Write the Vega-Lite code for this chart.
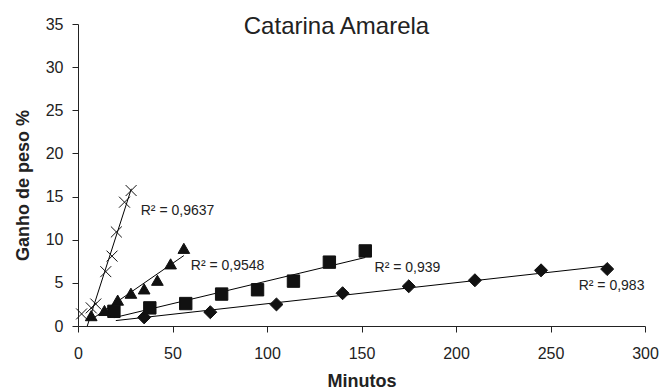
{
  "$schema": "https://vega.github.io/schema/vega-lite/v6.json",
  "width": 567,
  "height": 302,
  "autosize": {"type": "none"},
  "padding": {"left": 78, "top": 24, "right": 15, "bottom": 63},
  "background": "white",
  "config": {
    "view": {"stroke": null},
    "font": "Liberation Sans",
    "axis": {
      "grid": false,
      "domainColor": "#222",
      "tickColor": "#222",
      "labelColor": "#222",
      "titleColor": "#222",
      "labelFont": "Liberation Sans",
      "titleFont": "Liberation Sans",
      "labelFontSize": 16,
      "titleFontSize": 18,
      "titleFontWeight": "bold",
      "tickSize": 6
    }
  },
  "title": {
    "text": "Catarina Amarela",
    "fontSize": 24,
    "font": "Liberation Sans",
    "fontWeight": "normal",
    "color": "#222",
    "anchor": "middle",
    "frame": "group",
    "dx": -25,
    "dy": 33,
    "baseline": "alphabetic",
    "offset": -9
  },
  "datasets": {
    "points": [
      {"series": "d", "x": 35, "y": 1.0},
      {"series": "d", "x": 70, "y": 1.6},
      {"series": "d", "x": 105, "y": 2.5},
      {"series": "d", "x": 140, "y": 3.8},
      {"series": "d", "x": 175, "y": 4.6},
      {"series": "d", "x": 210, "y": 5.3},
      {"series": "d", "x": 245, "y": 6.45},
      {"series": "d", "x": 280, "y": 6.6},
      {"series": "s", "x": 19, "y": 1.7},
      {"series": "s", "x": 38, "y": 2.1},
      {"series": "s", "x": 57, "y": 2.6},
      {"series": "s", "x": 76, "y": 3.7},
      {"series": "s", "x": 95, "y": 4.2},
      {"series": "s", "x": 114, "y": 5.2},
      {"series": "s", "x": 133, "y": 7.4},
      {"series": "s", "x": 152, "y": 8.7},
      {"series": "t", "x": 7, "y": 1.2},
      {"series": "t", "x": 14, "y": 1.8},
      {"series": "t", "x": 21, "y": 3.0},
      {"series": "t", "x": 28, "y": 3.8},
      {"series": "t", "x": 35, "y": 4.3},
      {"series": "t", "x": 42, "y": 5.3},
      {"series": "t", "x": 49, "y": 7.2},
      {"series": "t", "x": 56, "y": 9.0},
      {"series": "x", "x": 1.9, "y": 1.4},
      {"series": "x", "x": 7, "y": 2.1},
      {"series": "x", "x": 9.4, "y": 2.55},
      {"series": "x", "x": 14.7, "y": 6.3},
      {"series": "x", "x": 18, "y": 8.1},
      {"series": "x", "x": 20.3, "y": 10.9},
      {"series": "x", "x": 24.6, "y": 14.35},
      {"series": "x", "x": 28.1, "y": 15.7}
    ],
    "fits": [
      {"series": "x", "x": 4.9, "y": 0},
      {"series": "x", "x": 28.2, "y": 15.9},
      {"series": "t", "x": 7, "y": 0.74},
      {"series": "t", "x": 56, "y": 8.16},
      {"series": "s", "x": 19, "y": 0.96},
      {"series": "s", "x": 152, "y": 7.94},
      {"series": "d", "x": 20, "y": 0.63},
      {"series": "d", "x": 280, "y": 6.97}
    ],
    "labels": [
      {"label": "R² = 0,9637", "x": 33.2, "y": 13.3},
      {"label": "R² = 0,9548", "x": 59.7, "y": 7.0},
      {"label": "R² = 0,939", "x": 156.9, "y": 6.7},
      {"label": "R² = 0,983", "x": 264.9, "y": 4.6}
    ]
  },
  "encoding": {
    "x": {
      "field": "x",
      "type": "quantitative",
      "scale": {"domain": [0, 300], "nice": false},
      "axis": {
        "values": [0, 50, 100, 150, 200, 250, 300],
        "title": "Minutos",
        "labelPadding": 13,
        "labelFlush": false,
        "titleBaseline": "alphabetic",
        "titleY": 60
      }
    },
    "y": {
      "field": "y",
      "type": "quantitative",
      "scale": {"domain": [0, 35], "nice": false},
      "axis": {
        "values": [0, 5, 10, 15, 20, 25, 30, 35],
        "title": "Ganho de peso %",
        "labelPadding": 9,
        "titleX": -55,
        "titleY": 161,
        "titleAlign": "center",
        "titleBaseline": "middle",
        "titleAngle": -90
      }
    }
  },
  "layer": [
    {
      "data": {"name": "fits"},
      "mark": {"type": "line", "color": "#000", "strokeWidth": 1},
      "encoding": {"detail": {"field": "series"}}
    },
    {
      "data": {"name": "points"},
      "mark": {"type": "point", "filled": true, "fill": "#111", "stroke": "#111", "strokeWidth": 1, "opacity": 1},
      "encoding": {
        "shape": {
          "field": "series",
          "type": "nominal",
          "scale": {"domain": ["d", "s", "t", "x"], "range": ["diamond", "square", "triangle-up", "M-1,-1L1,1M-1,1L1,-1"]},
          "legend": null
        },
        "size": {
          "field": "series",
          "type": "nominal",
          "scale": {"domain": ["d", "s", "t", "x"], "range": [170, 120, 150, 110]},
          "legend": null
        }
      }
    },
    {
      "data": {"name": "labels"},
      "mark": {"type": "text", "align": "left", "baseline": "middle", "fontSize": 14, "font": "Liberation Sans", "color": "#222"},
      "encoding": {"text": {"field": "label"}}
    }
  ]
}
